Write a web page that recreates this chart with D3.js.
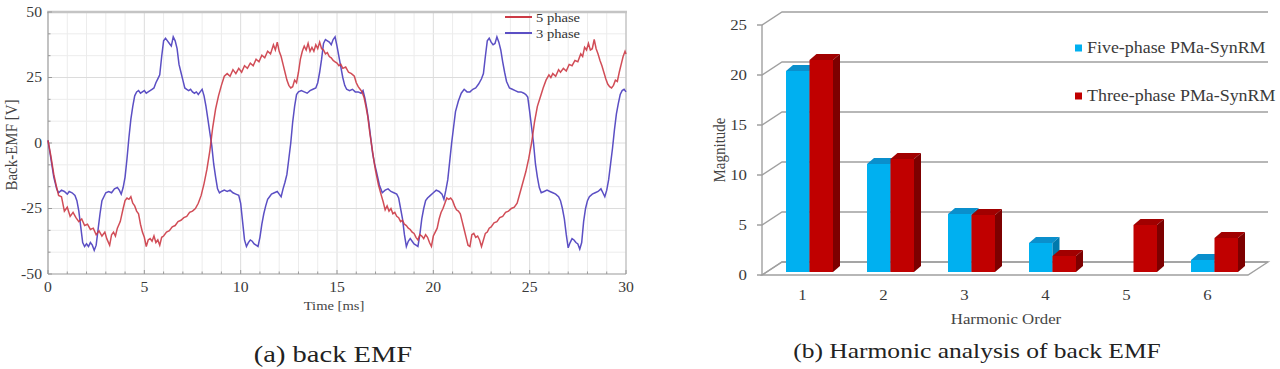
<!DOCTYPE html>
<html>
<head>
<meta charset="utf-8">
<script src="https://cdn.jsdelivr.net/npm/d3@7"></script>
<style>
  body { margin: 0; background: #fff; }
  svg { display: block; }
  text { font-family: "Liberation Serif", "Times New Roman", serif; }
</style>
</head>
<body>
<div id="vis"></div>
<script>
// back EMF, [time ms, volts]
const phase5 = [
  [0,1],[0.15,-5],[0.3,-12],[0.45,-17],[0.55,-20],[0.7,-20.5],[0.85,-26],[1,-24.5],[1.15,-28],[1.3,-26.5],
  [1.45,-28.5],[1.6,-30],[1.75,-29],[1.9,-31.5],[2.05,-31],[2.2,-33],[2.35,-32.5],[2.5,-35],[2.65,-33.5],[2.8,-35.5],
  [2.95,-34],[3.05,-36.5],[3.2,-39],[3.3,-35],[3.4,-34],[3.5,-35.5],[3.6,-32.5],[3.75,-30],[3.9,-25],[4,-22],
  [4.1,-21],[4.2,-21.5],[4.3,-20.5],[4.4,-23],[4.5,-24],[4.6,-26],[4.7,-27],[4.8,-31],[4.9,-34],[5,-36],
  [5.1,-39.5],[5.2,-37],[5.3,-36.5],[5.4,-37.5],[5.5,-35.5],[5.6,-38],[5.7,-37],[5.8,-39],[5.9,-36],[6,-35.5],
  [6.15,-34],[6.3,-33.5],[6.45,-32],[6.6,-31.5],[6.75,-30],[6.9,-29.5],[7.05,-28.5],[7.2,-28],[7.35,-26.5],[7.5,-26],
  [7.65,-25],[7.8,-23],[7.95,-20],[8.1,-15.5],[8.25,-10],[8.4,-3],[8.55,6],[8.7,13],[8.85,18],[9,22],
  [9.15,25.5],[9.3,26.5],[9.45,25.5],[9.6,28],[9.75,26.5],[9.9,28.5],[10.05,27],[10.2,29.5],[10.35,28.5],[10.5,30.5],
  [10.65,29.5],[10.8,32],[10.95,31],[11.1,33.5],[11.25,32.5],[11.4,35],[11.55,34],[11.7,37.5],[11.8,35.5],[11.9,38.5],
  [12,35],[12.1,33],[12.2,30],[12.3,27],[12.4,24],[12.5,22],[12.6,21],[12.7,21.5],[12.8,24],[12.9,23],
  [13,27],[13.1,32],[13.2,35],[13.3,37],[13.4,35.5],[13.5,38],[13.6,35],[13.7,36.5],[13.8,35],[13.9,37.5],
  [14,36],[14.1,38.5],[14.2,36],[14.3,35.5],[14.4,34],[14.5,34.5],[14.6,33],[14.7,32.5],[14.8,31.5],[14.9,31],
  [15,30.5],[15.1,29.5],[15.2,30],[15.3,28.5],[15.45,29],[15.6,27],[15.75,26.5],[15.9,25.5],[16,23],[16.1,21.5],
  [16.2,20.5],[16.3,19.5],[16.4,17.5],[16.5,14],[16.6,10],[16.7,4],[16.8,-1],[16.9,-6],[17,-10.5],[17.15,-16],
  [17.3,-20],[17.4,-22.5],[17.5,-25.5],[17.6,-24],[17.7,-26],[17.8,-25],[17.9,-27],[18,-26.5],[18.1,-28],[18.2,-28.5],
  [18.3,-30],[18.4,-29.5],[18.5,-31],[18.6,-31.5],[18.7,-32.5],[18.8,-33],[18.9,-34],[19,-34.5],[19.1,-36],[19.2,-37],
  [19.3,-35],[19.4,-35.5],[19.5,-36.5],[19.6,-35],[19.7,-36],[19.8,-38],[19.9,-39.5],[20,-35.5],[20.1,-34],[20.2,-32.5],
  [20.3,-29],[20.4,-26.5],[20.5,-25],[20.6,-23],[20.7,-21],[20.8,-21.5],[20.9,-21],[21,-22],[21.1,-24],[21.2,-25.5],
  [21.3,-26],[21.4,-27],[21.5,-30],[21.6,-33],[21.7,-36],[21.8,-39],[21.9,-39.5],[22,-35],[22.1,-34.5],[22.2,-36],
  [22.3,-35.5],[22.4,-37],[22.5,-39.5],[22.6,-37],[22.7,-34.5],[22.8,-34],[22.9,-32.5],[23,-32],[23.15,-30.5],[23.3,-30],
  [23.45,-28.5],[23.6,-28],[23.75,-26.5],[23.9,-26],[24.05,-25],[24.2,-24.5],[24.35,-23],[24.5,-19],[24.65,-15],[24.8,-11],
  [24.95,-6],[25.1,0],[25.25,8],[25.4,14],[25.55,17.5],[25.7,21],[25.85,24],[26,26],[26.1,25],[26.2,26.5],
  [26.35,25.5],[26.5,28],[26.6,27],[26.75,28.5],[26.9,27.5],[27.05,30],[27.2,29.5],[27.35,31.5],[27.5,31],[27.65,34],
  [27.75,33],[27.85,36.5],[27.95,35.5],[28.05,38],[28.15,35.5],[28.25,36],[28.35,39.5],[28.45,36],[28.55,34],[28.65,31.5],
  [28.75,29.5],[28.85,27],[28.95,24.5],[29.05,22.5],[29.15,21.5],[29.25,21],[29.35,22],[29.45,24],[29.55,23.5],[29.65,27],
  [29.75,30],[29.85,33],[29.95,35],[30,34]
];
const phase3 = [
  [0,1],[0.15,-6],[0.3,-13],[0.45,-17.5],[0.55,-19],[0.7,-18],[0.85,-18.5],[1,-19.5],[1.1,-18.5],[1.25,-19],
  [1.4,-20],[1.5,-22],[1.6,-26],[1.7,-32],[1.8,-38],[1.9,-39.5],[2,-38.5],[2.1,-39.5],[2.2,-38],[2.3,-39],
  [2.4,-41],[2.5,-39],[2.6,-33],[2.7,-27],[2.8,-22],[2.9,-20.5],[3,-19],[3.15,-18.5],[3.3,-19],[3.45,-17.5],
  [3.6,-17],[3.7,-18],[3.8,-19.5],[3.9,-17],[4,-13],[4.1,-6],[4.2,2],[4.3,9],[4.4,14],[4.5,18],
  [4.6,19.5],[4.7,20],[4.8,19],[4.9,19.5],[5,20],[5.1,19],[5.2,19.5],[5.3,20],[5.4,20.5],[5.5,21],
  [5.6,23],[5.7,24.5],[5.8,26],[5.9,33],[6,39],[6.1,40],[6.2,39],[6.3,38],[6.4,37],[6.5,40.5],
  [6.6,39],[6.7,36],[6.8,30],[6.9,27],[7,24],[7.1,21],[7.2,20.5],[7.3,20],[7.4,20.5],[7.5,19.5],
  [7.6,19],[7.7,19.5],[7.8,18.5],[7.9,19.5],[8,20.5],[8.1,18],[8.2,14],[8.3,9],[8.4,4],[8.5,-1],
  [8.6,-8],[8.7,-13],[8.8,-17.5],[8.9,-19],[9,-18.5],[9.15,-18],[9.3,-18.5],[9.45,-18],[9.6,-19],[9.75,-19.5],
  [9.9,-20],[10,-23],[10.1,-30],[10.2,-37],[10.3,-39.5],[10.4,-38],[10.5,-37],[10.6,-37.5],[10.7,-38.5],[10.8,-39],
  [10.9,-39.5],[11,-36],[11.1,-31],[11.2,-27],[11.3,-24],[11.4,-21.5],[11.5,-20.5],[11.6,-19.5],[11.75,-19],[11.9,-18.5],
  [12,-19.5],[12.1,-20.5],[12.2,-17.5],[12.3,-15],[12.4,-12],[12.5,-6],[12.6,0],[12.7,8],[12.8,14],[12.9,18.5],
  [13,19.5],[13.15,20],[13.3,19.5],[13.45,19],[13.6,20],[13.75,20.5],[13.9,21],[14,23],[14.1,27],[14.2,32],
  [14.3,38],[14.4,39.5],[14.5,39],[14.6,38.5],[14.7,37.5],[14.8,39.5],[14.9,40.5],[15,37],[15.1,33],[15.2,29],
  [15.3,25],[15.4,22],[15.5,20.5],[15.65,20],[15.8,20.5],[15.95,19.5],[16.1,19.5],[16.25,19],[16.35,20],[16.45,17],
  [16.55,13],[16.65,8],[16.75,2],[16.85,-4],[16.95,-8],[17.05,-11],[17.2,-16],[17.35,-19],[17.5,-18],[17.65,-17.5],
  [17.8,-18.5],[17.95,-19],[18.1,-19.5],[18.2,-21],[18.3,-25],[18.4,-29],[18.5,-35],[18.6,-39.5],[18.7,-37.5],[18.8,-36.5],
  [18.9,-37.5],[19,-38.5],[19.1,-39],[19.2,-39.5],[19.3,-35],[19.4,-29],[19.5,-25],[19.6,-22],[19.7,-21],[19.85,-20],
  [20,-19],[20.15,-18],[20.3,-18.5],[20.45,-19.5],[20.55,-21.5],[20.65,-18],[20.75,-14],[20.85,-7],[20.95,0],[21.05,6],
  [21.15,12],[21.3,16],[21.45,19],[21.6,20.5],[21.75,19.5],[21.9,19.5],[22.05,20.5],[22.2,21],[22.35,22.5],[22.5,24.5],
  [22.6,26.5],[22.7,33],[22.8,39],[22.9,40],[23,38.5],[23.1,37.5],[23.2,38],[23.3,40.5],[23.4,38.5],[23.5,35.5],
  [23.6,31],[23.7,27],[23.8,23.5],[23.95,21],[24.1,20.5],[24.25,20],[24.4,19.5],[24.55,19.5],[24.7,19],[24.8,18.5],
  [24.9,17.5],[25,12],[25.1,6],[25.2,0],[25.3,-8],[25.4,-13],[25.5,-17],[25.6,-19],[25.75,-18.5],[25.9,-18],
  [26.05,-18.5],[26.2,-19],[26.35,-19.5],[26.5,-20.5],[26.6,-22],[26.7,-25],[26.8,-29],[26.9,-35],[27,-40],[27.1,-38],
  [27.2,-36.5],[27.3,-37],[27.4,-38],[27.5,-38.5],[27.6,-40.5],[27.7,-38],[27.8,-30],[27.9,-25],[28,-22],[28.1,-20.5],
  [28.25,-19.5],[28.4,-19],[28.55,-18.5],[28.7,-17.5],[28.8,-19],[28.9,-20.5],[29,-18],[29.1,-14],[29.2,-8],[29.3,-2],
  [29.4,5],[29.5,11],[29.6,15],[29.7,18.5],[29.8,20],[29.9,20.5],[30,19.5]
];
const emfTicksX = [0, 5, 10, 15, 20, 25, 30];
const emfTicksY = [-50, -25, 0, 25, 50];

// harmonic analysis
const harmonics = [1, 2, 3, 4, 5, 6];
const fivePhase = [20.1, 10.8, 5.8, 2.9, 0, 1.2];
const threePhase = [21.2, 11.3, 5.7, 1.6, 4.7, 3.4];
const magTicks = [0, 5, 10, 15, 20, 25];

const SX = 1.12; // text in the source looks a bit stretched sideways

const svg = d3.select("#vis").append("svg")
  .attr("width", 1280).attr("height", 369)
  .style("background", "#fff");

function label(g, x, y, s, size, anchor, color, rot, sx) {
  const k = sx || SX;
  return g.append("text")
    .attr("transform", `translate(${x},${y})` + (rot ? ` rotate(-90) scale(1,${k})` : ` scale(${k},1)`))
    .attr("text-anchor", anchor || "middle")
    .attr("dominant-baseline", "central")
    .style("font-size", size + "px")
    .style("fill", color || "#333")
    .text(s);
}

// ---------- (a) back EMF ----------
const left = svg.append("g");
const x = d3.scaleLinear().domain([0, 30]).range([48, 626]);
const y = d3.scaleLinear().domain([-50, 50]).range([274, 12]);

// minor grid
left.selectAll("line.vminor").data(d3.range(1, 30)).enter().append("line")
  .attr("x1", d => x(d)).attr("x2", d => x(d)).attr("y1", y(50)).attr("y2", y(-50))
  .style("stroke", d => d % 5 === 0 ? "#dcdcdc" : "#ececec").style("stroke-width", 1);
left.selectAll("line.hminor").data(d3.range(1, 12)).enter().append("line")
  .attr("x1", x(0)).attr("x2", x(30))
  .attr("y1", d => y(-50 + d * 25 / 3)).attr("y2", d => y(-50 + d * 25 / 3))
  .style("stroke", d => d % 3 === 0 ? "#dcdcdc" : "#ececec").style("stroke-width", 1);

// frame
left.append("line").attr("x1", x(0) - 1).attr("x2", x(30) + 1).attr("y1", y(50)).attr("y2", y(50))
  .style("stroke", "#c4c4c4").style("stroke-width", 2.5);
left.append("line").attr("x1", x(30)).attr("x2", x(30)).attr("y1", y(50)).attr("y2", y(-50))
  .style("stroke", "#c4c4c4").style("stroke-width", 1.5);
left.append("line").attr("x1", x(0)).attr("x2", x(0)).attr("y1", y(50)).attr("y2", y(-50))
  .style("stroke", "#9a9a9a").style("stroke-width", 1.2);
left.append("line").attr("x1", x(0)).attr("x2", x(30)).attr("y1", y(-50)).attr("y2", y(-50))
  .style("stroke", "#9a9a9a").style("stroke-width", 1.2);
left.selectAll("line.xt").data(d3.range(0, 31)).enter().append("line")
  .attr("x1", d => x(d)).attr("x2", d => x(d)).attr("y1", y(-50)).attr("y2", d => y(-50) - (d % 5 === 0 ? 4 : 2.5))
  .style("stroke", "#9a9a9a");
left.selectAll("line.yt").data(d3.range(0, 13)).enter().append("line")
  .attr("x1", x(0)).attr("x2", d => x(0) + (d % 3 === 0 ? 4 : 2.5))
  .attr("y1", d => y(-50 + d * 25 / 3)).attr("y2", d => y(-50 + d * 25 / 3))
  .style("stroke", "#9a9a9a");

emfTicksX.forEach(t => label(left, x(t), 287, t, 14, "middle", "#3a3a3a"));
emfTicksY.forEach(v => label(left, 42, y(v), v, 14, "end", "#3a3a3a"));
label(left, 334, 306, "Time [ms]", 13, "middle", "#444");
label(left, 11, 145, "Back-EMF [V]", 15, "middle", "#444", true);

const line = d3.line().x(d => x(d[0])).y(d => y(d[1]));
left.append("path").datum(phase3).attr("d", line)
  .style("fill", "none").style("stroke", "#5b4fc4").style("stroke-width", 1.5);
left.append("path").datum(phase5).attr("d", line)
  .style("fill", "none").style("stroke", "#cc3a45").style("stroke-width", 1.5).style("opacity", 0.9);

// legend
const legA = [["5 phase", "#cc3a45"], ["3 phase", "#5b4fc4"]];
legA.forEach((d, i) => {
  const ly = 17 + i * 16;
  left.append("line").attr("x1", 505).attr("x2", 532).attr("y1", ly).attr("y2", ly)
    .style("stroke", d[1]).style("stroke-width", 2);
  label(left, 536, ly + 1, d[0], 13, "start", "#333");
});

label(left, 333, 354, "(a) back EMF", 23, "middle", "#222", false, 1.24);

// ---------- (b) Harmonic analysis ----------
const right = svg.append("g");
const bx = d3.scaleBand().domain(harmonics).range([762, 1248]);
const by = d3.scaleLinear().domain([0, 25]).range([275, 25]);
const DX = 20, DY = -13;            // back wall offset
const OX = 7, OY = -3;              // bars set back from the front edge
const PX = 7, PY = -6;              // bar depth
const BW = 23.5;
const x0 = bx.range()[0], x1 = bx.range()[1];

// floor
right.append("path")
  .attr("d", `M${x0},${by(0)}L${x1},${by(0)}L${x1 + DX},${by(0) + DY}L${x0 + DX},${by(0) + DY}Z`)
  .style("fill", "#fff").style("stroke", "#a0a0a0").style("stroke-width", 1.4);

// gridlines
magTicks.forEach(v => {
  right.append("path")
    .attr("d", `M${x0 - 5},${by(v)}L${x0},${by(v)}L${x0 + DX},${by(v) + DY}L${x1 + DX},${by(v) + DY}`)
    .style("fill", "none").style("stroke", "#a0a0a0").style("stroke-width", 1.4);
  label(right, 747, by(v), v, 15, "end", "#3a3a3a");
});
right.append("line").attr("x1", x0).attr("x2", x0).attr("y1", by(0)).attr("y2", by(25))
  .style("stroke", "#a0a0a0").style("stroke-width", 1.4);

function bar(cx, v, front, top, side) {
  if (v <= 0) return;
  const yb = by(0) + OY, yt = by(v) + OY;
  right.append("rect").attr("x", cx).attr("y", yt).attr("width", BW).attr("height", yb - yt)
    .style("fill", front);
  right.append("path")
    .attr("d", `M${cx},${yt}L${cx + BW},${yt}L${cx + BW + PX},${yt + PY}L${cx + PX},${yt + PY}Z`)
    .style("fill", top);
  right.append("path")
    .attr("d", `M${cx + BW},${yt}L${cx + BW + PX},${yt + PY}L${cx + BW + PX},${yb + PY}L${cx + BW},${yb}Z`)
    .style("fill", side);
}

harmonics.forEach((h, i) => {
  const c = bx(h) + bx.bandwidth() / 2 + OX;
  bar(c - BW, fivePhase[i], "#00b0f0", "#0a8fcc", "#0079ad");
  bar(c, threePhase[i], "#c00000", "#a10000", "#7d0000");
  label(right, bx(h) + bx.bandwidth() / 2, 295, h, 15, "middle", "#3a3a3a");
});

label(right, 1006, 319, "Harmonic Order", 15, "middle", "#444");
label(right, 719, 150, "Magnitude", 15, "middle", "#444", true);

// legend
const legB = [["Five-phase PMa-SynRM", "#00b0f0"], ["Three-phase PMa-SynRM", "#c00000"]];
legB.forEach((d, i) => {
  const ly = 48 + i * 48;
  right.append("rect").attr("x", 1075).attr("y", ly - 3.5).attr("width", 7).attr("height", 7)
    .style("fill", d[1]);
  label(right, 1087, ly, d[0], 16, "start", "#3a3a3a");
});

label(right, 977, 351, "(b) Harmonic analysis of back EMF", 22, "middle", "#222", false, 1.16);
</script>
</body>
</html>
